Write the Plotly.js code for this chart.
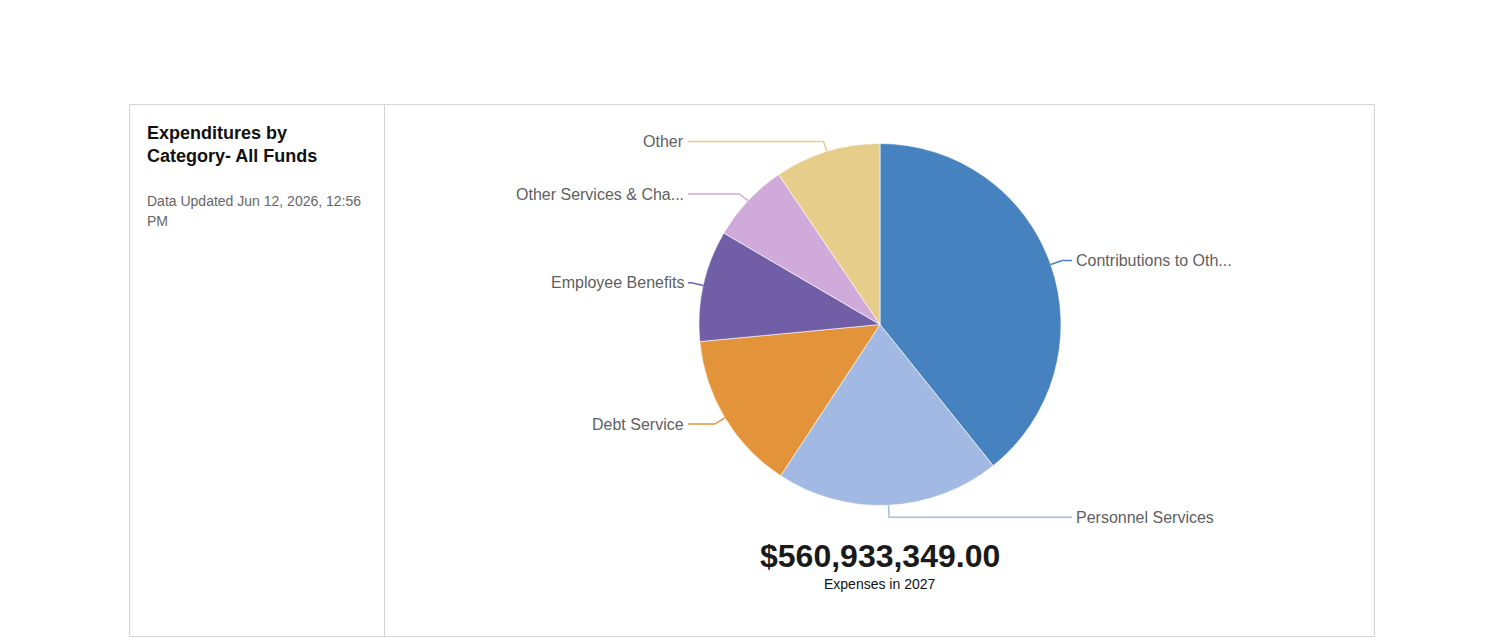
<!DOCTYPE html>
<html>
<head>
<meta charset="utf-8">
<script src="https://cdn.plot.ly/plotly-3.0.1.min.js"></script>
<style>
  html, body { margin: 0; padding: 0; background: #ffffff; }
  #chart { width: 1504px; height: 643px; }
</style>
</head>
<body>
<div id="chart"></div>
<script>
// Expenditure categories, in drawing order (clockwise from 12 o'clock)
const categories = [
  'Contributions to Oth...',
  'Personnel Services',
  'Debt Service',
  'Employee Benefits',
  'Other Services & Cha...',
  'Other'
];
// Amounts in dollars
const amounts = [220150000, 112180000, 79930000, 55720000, 39900000, 53053349];
const sliceColors = ['#4682c0', '#a2bae3', '#e3943a', '#705ea7', '#cfaadb', '#e6cd8a'];

const chartTitle = ['Expenditures by', 'Category- All Funds'];
const updatedText = ['Data Updated Jun 12, 2026, 12:56', 'PM'];
const totalCaption = 'Expenses in 2027';

// Page geometry (pixels)
const W = 1504, H = 643;
const card = { x0: 129.5, x1: 1374.5, y0: 104.5, y1: 636.5, divider: 384.5 };
const pie = { cx: 880, cy: 324.5, r: 181 };
const leader = { gap: 12, rightX: 1072, leftX: 688, textPad: 2 };

const px = x => x / W;
const py = y => 1 - y / H;

const FONT = 'Arial, "Liberation Sans", sans-serif';

const total = amounts.reduce((a, b) => a + b, 0);
const totalText = '$' + total.toLocaleString('en-US', { minimumFractionDigits: 2, maximumFractionDigits: 2 });

const shapes = [
  // card outline and divider
  { type: 'rect', xref: 'paper', yref: 'paper', x0: px(card.x0), x1: px(card.x1), y0: py(card.y1), y1: py(card.y0),
    line: { color: '#d4d4d4', width: 1 }, fillcolor: 'rgba(0,0,0,0)', layer: 'below' },
  { type: 'line', xref: 'paper', yref: 'paper', x0: px(card.divider), x1: px(card.divider), y0: py(card.y1), y1: py(card.y0),
    line: { color: '#d4d4d4', width: 1 }, layer: 'below' }
];

const annotations = [];

// Leader lines and outside labels, placed from each slice's mid angle
let cum = 0;
amounts.forEach((v, i) => {
  const mid = (cum + v / 2) / total * 2 * Math.PI;
  cum += v;
  const s = Math.sin(mid), c = Math.cos(mid);
  const ex = pie.cx + pie.r * s, ey = pie.cy - pie.r * c;
  const bx = pie.cx + (pie.r + leader.gap) * s;
  // upper-half elbows sit a little lower, matching the label baseline offset
  const by = pie.cy - (pie.r + leader.gap) * c + (c > 0.6 ? 1.5 : 0);
  const right = s >= 0;
  const endX = right ? leader.rightX : leader.leftX;
  shapes.push({
    type: 'path', xref: 'paper', yref: 'paper',
    path: `M ${px(ex)} ${py(ey)} L ${px(bx)} ${py(by)} L ${px(endX)} ${py(by)}`,
    line: { color: sliceColors[i], width: 1.5 }
  });
  annotations.push({
    xref: 'paper', yref: 'paper', showarrow: false,
    x: px(right ? endX + leader.textPad : endX - leader.textPad), y: py(by),
    xanchor: right ? 'left' : 'right', yanchor: 'middle',
    text: categories[i],
    font: { family: FONT, size: 16, color: '#5f5f5f' }
  });
});

// Left panel title and update note
chartTitle.forEach((t, i) => annotations.push({
  xref: 'paper', yref: 'paper', showarrow: false,
  x: px(145), y: py(133 + i * 23), xanchor: 'left', yanchor: 'middle',
  text: '<b>' + t + '</b>', font: { family: FONT, size: 18, color: '#111111' }
}));
updatedText.forEach((t, i) => annotations.push({
  xref: 'paper', yref: 'paper', showarrow: false,
  x: px(145), y: py(201 + i * 20), xanchor: 'left', yanchor: 'middle',
  text: t, font: { family: FONT, size: 14, color: '#666666' }
}));

// Total under the pie
annotations.push({
  xref: 'paper', yref: 'paper', showarrow: false,
  x: px(pie.cx), y: py(556), xanchor: 'center', yanchor: 'middle',
  text: '<b>' + totalText + '</b>', font: { family: FONT, size: 32, color: '#1a1a1a' }
});
annotations.push({
  xref: 'paper', yref: 'paper', showarrow: false,
  x: px(pie.cx), y: py(584), xanchor: 'center', yanchor: 'middle',
  text: totalCaption, font: { family: FONT, size: 14, color: '#111111' }
});

const trace = {
  type: 'pie',
  labels: categories,
  values: amounts,
  sort: false,
  direction: 'clockwise',
  rotation: 0,
  marker: { colors: sliceColors, line: { color: '#ffffff', width: 0.6 } },
  textinfo: 'none',
  hoverinfo: 'label+value+percent',
  showlegend: false,
  domain: {
    x: [px(pie.cx - pie.r), px(pie.cx + pie.r)],
    y: [py(pie.cy + pie.r), py(pie.cy - pie.r)]
  }
};

const layout = {
  width: W, height: H,
  margin: { l: 0, r: 0, t: 0, b: 0, pad: 0 },
  paper_bgcolor: '#ffffff',
  plot_bgcolor: '#ffffff',
  showlegend: false,
  shapes: shapes,
  annotations: annotations,
  font: { family: FONT }
};

Plotly.newPlot('chart', [trace], layout, { displayModeBar: false, responsive: false });
</script>
</body>
</html>
